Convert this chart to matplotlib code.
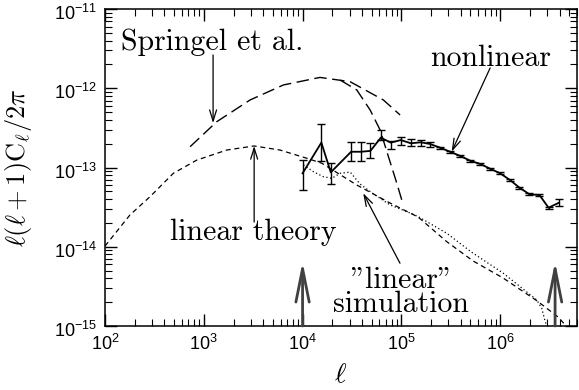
import matplotlib
matplotlib.use("Agg")
import matplotlib.pyplot as plt
import matplotlib.transforms as mtransforms
import numpy as np
from matplotlib.ticker import LogLocator, NullFormatter, FixedLocator

plt.rcParams['font.family'] = ['Liberation Sans', 'DejaVu Sans']
plt.rcParams['mathtext.fontset'] = 'cm'

# nonlinear simulation points with error bars
ell_nl = [1.0e4, 1.55e4, 1.93e4, 3.10e4, 3.91e4, 4.86e4, 6.20e4, 7.82e4, 9.87e4,
          1.25e5, 1.57e5, 1.95e5, 2.47e5, 3.12e5, 3.94e5, 4.97e5, 6.27e5, 7.92e5,
          1.0e6, 1.26e6, 1.57e6, 1.98e6, 2.50e6, 3.09e6, 3.95e6]
cl_nl = [8.45e-14, 2.06e-13, 8.69e-14, 1.58e-13, 1.58e-13, 1.62e-13, 2.38e-13,
         2.06e-13, 2.22e-13, 2.02e-13, 2.08e-13, 1.98e-13, 1.78e-13, 1.58e-13,
         1.40e-13, 1.22e-13, 1.11e-13, 9.66e-14, 8.45e-14, 6.95e-14, 5.56e-14,
         4.59e-14, 4.50e-14, 3.11e-14, 3.60e-14]
cl_nl_lo = [5.25e-14, 1.21e-13, 6.14e-14, 1.21e-13, 1.21e-13, 1.31e-13, 2.22e-13,
            1.71e-13, 1.92e-13, 1.88e-13, 1.88e-13, 1.83e-13, 1.70e-13, 1.53e-13,
            1.36e-13, 1.18e-13, 1.08e-13, 9.38e-14, 8.20e-14, 6.75e-14, 5.40e-14,
            4.46e-14, 4.37e-14, 3.02e-14, 3.30e-14]
cl_nl_hi = [1.26e-13, 3.51e-13, 1.13e-13, 2.12e-13, 2.12e-13, 2.02e-13, 2.97e-13,
            2.16e-13, 2.45e-13, 2.27e-13, 2.22e-13, 2.08e-13, 1.83e-13, 1.63e-13,
            1.44e-13, 1.26e-13, 1.14e-13, 9.95e-14, 8.70e-14, 7.16e-14, 5.73e-14,
            4.73e-14, 4.64e-14, 3.20e-14, 3.97e-14]

# linear theory
ell_lin = [100, 179, 286, 492, 849, 1706, 3228, 5916, 1.10e4, 1.57e4, 3.54e4,
           7.69e4, 1.48e5, 2.88e5, 5.33e5, 1.07e6, 2.37e6, 3.86e6, 4.66e6]
cl_lin = [1.02e-14, 2.52e-14, 4.29e-14, 8.45e-14, 1.24e-13, 1.66e-13, 1.87e-13,
          1.66e-13, 1.31e-13, 1.13e-13, 6.01e-14, 3.56e-14, 2.37e-14, 1.16e-14,
          6.61e-15, 4.04e-15, 2.07e-15, 1.30e-15, 1.0e-15]

# "linear" simulation
ell_linsim = [1.02e4, 1.29e4, 1.62e4, 1.98e4, 2.40e4, 3.03e4, 3.82e4, 5.06e4,
              7.69e4, 1.14e5, 1.49e5, 2.88e5, 5.16e5, 1.08e6, 2.35e6, 2.64e6,
              2.86e6, 2.99e6]
cl_linsim = [1.08e-13, 8.85e-14, 7.65e-14, 7.31e-14, 8.45e-14, 8.77e-14, 6.19e-14,
             4.77e-14, 3.37e-14, 2.77e-14, 2.39e-14, 1.48e-14, 8.51e-15, 4.62e-15,
             2.13e-15, 1.67e-15, 1.13e-15, 1.0e-15]

# Springel et al. curves
ell_spr1 = [727, 1352, 2938, 6397, 1.50e4, 3.03e4, 6.58e4, 9.71e4]
cl_spr1 = [1.83e-13, 3.78e-13, 7.11e-13, 1.10e-12, 1.37e-12, 1.21e-12, 7.11e-13, 4.60e-13]
ell_spr2 = [2.40e4, 3.54e4, 4.83e4, 6.10e4, 7.40e4, 9.0e4, 1.01e5]
cl_spr2 = [1.27e-12, 9.51e-13, 5.32e-13, 2.97e-13, 1.37e-13, 6.32e-14, 3.89e-14]

# resolution limits marked by arrows
ell_marks = [1.0e4, 3.6e6]

# major ticks
xticks = [1e2, 1e3, 1e4, 1e5, 1e6]
yticks = [1e-15, 1e-14, 1e-13, 1e-12, 1e-11]

fig = plt.figure(figsize=(5.79, 3.90), dpi=100)
ax = fig.add_axes([105/579, 1 - 326/390, 472/579, 317/390])
ax.set_xscale('log')
ax.set_yscale('log')

ax.plot(ell_spr1, cl_spr1, color='k', lw=1, dashes=(9, 4))
ax.plot(ell_spr2, cl_spr2, color='k', lw=1, dashes=(9, 4))
ax.plot(ell_lin, cl_lin, color='k', lw=0.9, dashes=(4, 3))
ax.plot(ell_linsim, cl_linsim, color='k', lw=0.9, dashes=(1, 2))

cl_nl_arr = np.array(cl_nl)
yerr = [cl_nl_arr - np.array(cl_nl_lo), np.array(cl_nl_hi) - cl_nl_arr]
ax.errorbar(ell_nl, cl_nl, yerr=yerr, color='k', lw=1.3, elinewidth=1,
            capsize=3, capthick=1)

ax.set_xlim(1e2, 6e6)
ax.set_ylim(1e-15, 1e-11)

ax.xaxis.set_major_locator(FixedLocator(xticks))
ax.xaxis.set_minor_locator(LogLocator(base=10, subs=np.arange(2, 10), numticks=20))
ax.xaxis.set_minor_formatter(NullFormatter())
ax.yaxis.set_major_locator(FixedLocator(yticks))
ax.yaxis.set_minor_locator(LogLocator(base=10, subs=np.arange(2, 10), numticks=20))
ax.yaxis.set_minor_formatter(NullFormatter())
ax.tick_params(which='both', direction='in', top=True, right=True, labelsize=13)
ax.tick_params(which='major', length=8.5, width=1, pad=6)
ax.tick_params(which='minor', length=5, width=0.8)
for s in ax.spines.values():
    s.set_linewidth(1.1)

ax.set_xlabel(r'$\ell$', fontsize=20)
ax.xaxis.set_label_coords(0.5, -0.115)
ax.set_ylabel(r'$\ell(\ell+1)\mathrm{C}_\ell/2\pi$', fontsize=19)
ax.yaxis.set_label_coords(-0.15, 0.5)

tfont = dict(family=['cmr10', 'DejaVu Serif'], fontsize=21.5)
ax.text(0.228, 0.871, 'Springel et al.', ha='center', va='baseline',
        transform=ax.transAxes, **tfont)
ax.text(0.816, 0.820, 'nonlinear', ha='center', va='baseline',
        transform=ax.transAxes, **tfont)
ax.text(0.315, 0.271, 'linear theory', ha='center', va='baseline',
        transform=ax.transAxes, **tfont)
ax.text(0.628, 0.044, '"linear"\nsimulation', ha='center', va='baseline',
        multialignment='center', linespacing=0.85,
        transform=ax.transAxes, **tfont)

small = dict(arrowstyle='->,head_length=8,head_width=2.5', mutation_scale=1,
             lw=0.9, color='k', shrinkA=0, shrinkB=0)
for start, tip in [((0.229, 0.855), (0.229, 0.640)),
                   ((0.316, 0.328), (0.316, 0.568)),
                   ((0.816, 0.814), (0.7345, 0.550)),
                   ((0.625, 0.198), (0.547, 0.419))]:
    ax.annotate('', xy=tip, xytext=start, xycoords='axes fraction',
                textcoords='axes fraction', arrowprops=small)

big = dict(arrowstyle='->,head_length=24,head_width=4.8', mutation_scale=1,
           lw=2, color='0.25', shrinkA=0, shrinkB=0)
for l in ell_marks:
    ax.annotate('', xy=(l, 0.203), xytext=(l, 0.0),
                xycoords=('data', 'axes fraction'),
                textcoords=('data', 'axes fraction'), arrowprops=big)

# nudge y tick labels a little below their ticks, as in the original
fig.canvas.draw()
shift = mtransforms.ScaledTranslation(0, -0.03, fig.dpi_scale_trans)
for t in ax.yaxis.get_major_ticks():
    t.label1.set_transform(t.label1.get_transform() + shift)

fig.savefig('out.png', dpi=100)
